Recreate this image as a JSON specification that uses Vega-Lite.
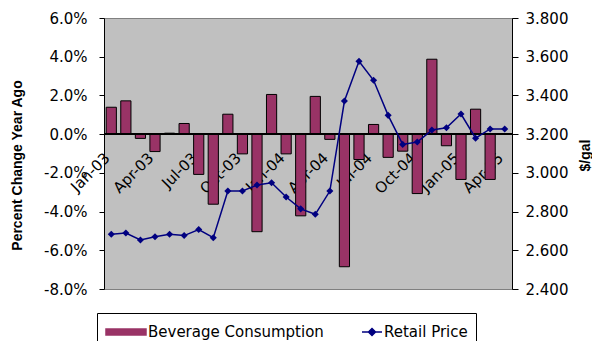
{
  "$schema": "https://vega.github.io/schema/vega-lite/v6.json",
  "width": 408,
  "height": 271,
  "autosize": {"type": "none"},
  "padding": {"left": 104, "top": 18, "right": 80, "bottom": 52},
  "background": "white",
  "config": {
    "view": {"fill": "#C0C0C0", "stroke": "#808080", "strokeWidth": 1},
    "axis": {
      "labelFont": "DejaVu Sans",
      "labelFontSize": 15,
      "labelColor": "black",
      "titleFont": "Liberation Sans",
      "titleFontSize": 14,
      "titleFontWeight": "bold",
      "titleColor": "black",
      "domainColor": "black",
      "domainWidth": 1,
      "tickColor": "black",
      "tickWidth": 1,
      "grid": false
    }
  },
  "data": {
    "values": [
      {"month": "Jan-03", "consumption": 1.39, "price": 2.683},
      {"month": "Feb-03", "consumption": 1.72, "price": 2.689},
      {"month": "Mar-03", "consumption": -0.22, "price": 2.653},
      {"month": "Apr-03", "consumption": -0.9, "price": 2.670},
      {"month": "May-03", "consumption": 0.05, "price": 2.683},
      {"month": "Jun-03", "consumption": 0.55, "price": 2.676},
      {"month": "Jul-03", "consumption": -2.08, "price": 2.707},
      {"month": "Aug-03", "consumption": -3.62, "price": 2.665},
      {"month": "Sep-03", "consumption": 1.03, "price": 2.906},
      {"month": "Oct-03", "consumption": -1.02, "price": 2.906},
      {"month": "Nov-03", "consumption": -5.04, "price": 2.937},
      {"month": "Dec-03", "consumption": 2.05, "price": 2.949},
      {"month": "Jan-04", "consumption": -1.02, "price": 2.875},
      {"month": "Feb-04", "consumption": -4.22, "price": 2.814},
      {"month": "Mar-04", "consumption": 1.95, "price": 2.786},
      {"month": "Apr-04", "consumption": -0.27, "price": 2.906},
      {"month": "May-04", "consumption": -6.85, "price": 3.371},
      {"month": "Jun-04", "consumption": -1.31, "price": 3.576},
      {"month": "Jul-04", "consumption": 0.5, "price": 3.478},
      {"month": "Aug-04", "consumption": -1.2, "price": 3.297},
      {"month": "Sep-04", "consumption": -0.88, "price": 3.147},
      {"month": "Oct-04", "consumption": -3.07, "price": 3.159},
      {"month": "Nov-04", "consumption": 3.87, "price": 3.221},
      {"month": "Dec-04", "consumption": -0.6, "price": 3.233},
      {"month": "Jan-05", "consumption": -2.34, "price": 3.304},
      {"month": "Feb-05", "consumption": 1.29, "price": 3.179},
      {"month": "Mar-05", "consumption": -2.34, "price": 3.227},
      {"month": "Apr-05", "consumption": null, "price": 3.227}
    ]
  },
  "layer": [
    {
      "mark": {"type": "bar", "stroke": "black", "strokeWidth": 1},
      "encoding": {
        "x": {
          "field": "month",
          "type": "ordinal",
          "sort": null,
          "scale": {"paddingInner": 0.3, "paddingOuter": 0.15},
          "axis": {
            "title": null,
            "offset": -155,
            "domain": false,
            "ticks": false,
            "tickSize": 0,
            "labelAngle": -45,
            "labelAlign": "right",
            "labelBaseline": "top",
            "labelOffset": -9,
            "labelPadding": 16,
            "labelOverlap": false,
            "labelExpr": "indexof(['Jan','Apr','Jul','Oct'], slice(datum.value, 0, 3)) >= 0 ? datum.value : ''"
          }
        },
        "y": {
          "field": "consumption",
          "type": "quantitative",
          "scale": {"domain": [-8, 6], "nice": false},
          "axis": {
            "orient": "left",
            "values": [-8, -6, -4, -2, 0, 2, 4, 6],
            "labelExpr": "replace(format(datum.value, '.1f'), '\u2212', '-') + '%'",
            "tickSize": 5,
            "labelPadding": 12,
            "labelFlush": false,
            "labelOverlap": false,
            "title": "Percent Change Year Ago",
            "titleAngle": -90,
            "titleX": -87,
            "titleY": 147,
            "titleAlign": "center",
            "titleBaseline": "middle"
          }
        },
        "color": {
          "datum": "Beverage Consumption",
          "scale": {
            "domain": ["Beverage Consumption", "Retail Price"],
            "range": ["#993366", "#000080"]
          },
          "legend": {
            "title": null,
            "orient": "none",
            "legendX": -7,
            "legendY": 295,
            "direction": "horizontal",
            "columns": 2,
            "padding": 8,
            "strokeColor": "black",
            "fillColor": "white",
            "labelFont": "DejaVu Sans",
            "labelFontSize": 15,
            "labelColor": "black",
            "labelLimit": 300,
            "labelOffset": 21,
            "columnPadding": 17,
            "symbolSize": 400,
            "symbolOpacity": 1,
            "symbolType": {"expr": "datum.value === 'Retail Price' ? 'M1,0H3M2,-0.35L2.35,0L2,0.35L1.65,0Z' : 'M-1,-0.3H3V0.3H-1Z'"}
          }
        }
      }
    },
    {
      "mark": {"type": "rule", "color": "black", "strokeWidth": 1},
      "encoding": {
        "y": {"datum": 0, "scale": {"domain": [-8, 6], "nice": false}, "axis": null}
      }
    },
    {
      "mark": {
        "type": "line",
        "strokeWidth": 1.5,
        "point": {"shape": "diamond", "size": 50, "filled": true}
      },
      "encoding": {
        "x": {
          "field": "month",
          "type": "ordinal",
          "sort": null,
          "axis": {
            "title": null,
            "offset": -155,
            "domain": false,
            "ticks": false,
            "tickSize": 0,
            "labelAngle": -45,
            "labelAlign": "right",
            "labelBaseline": "top",
            "labelOffset": -9,
            "labelPadding": 16,
            "labelOverlap": false,
            "labelExpr": "indexof(['Jan','Apr','Jul','Oct'], slice(datum.value, 0, 3)) >= 0 ? datum.value : ''"
          }
        },
        "y": {
          "field": "price",
          "type": "quantitative",
          "scale": {"domain": [2.4, 3.8], "nice": false, "zero": false},
          "axis": {
            "orient": "right",
            "values": [2.4, 2.6, 2.8, 3.0, 3.2, 3.4, 3.6, 3.8],
            "format": ".3f",
            "tickSize": 6,
            "labelPadding": 7,
            "labelFlush": false,
            "labelOverlap": false,
            "title": "$/gal",
            "titleAngle": -90,
            "titleX": 73,
            "titleY": 137,
            "titleAlign": "center",
            "titleBaseline": "middle"
          }
        },
        "color": {"datum": "Retail Price"}
      }
    }
  ],
  "resolve": {"scale": {"y": "independent"}}
}
